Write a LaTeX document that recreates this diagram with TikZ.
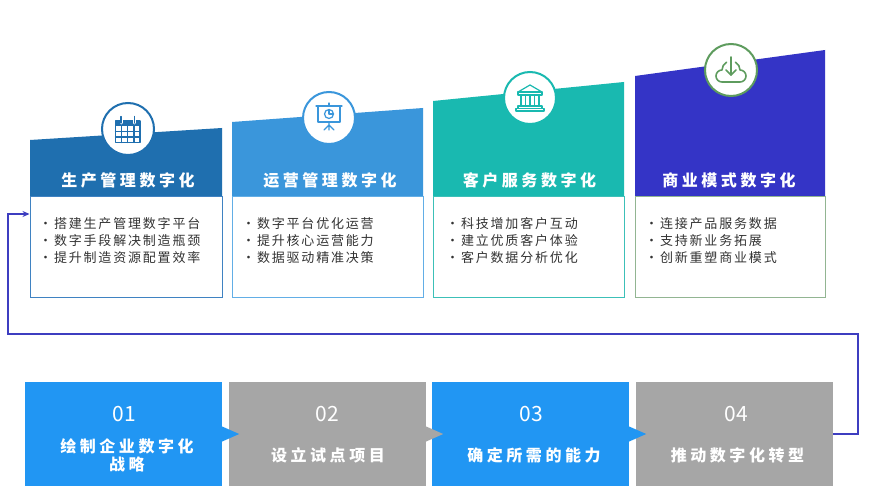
\documentclass[tikz,border=0pt]{standalone}
\usepackage{fontspec}
\setmainfont{Noto Sans CJK SC}
\newfontfamily\titlef[LetterSpace=22]{Noto Sans CJK SC}
\newfontfamily\bodyf[LetterSpace=14]{Noto Sans CJK SC}
\newfontfamily\stepf[LetterSpace=22]{Noto Sans CJK SC}
\usetikzlibrary{arrows.meta}
\definecolor{hA}{HTML}{1F6FAF}
\definecolor{hB}{HTML}{3A96DB}
\definecolor{hC}{HTML}{19B9B0}
\definecolor{hD}{HTML}{3434C6}
\definecolor{bA}{HTML}{3F82C2}
\definecolor{bB}{HTML}{62AEE6}
\definecolor{bC}{HTML}{3CC0B8}
\definecolor{bD}{HTML}{92B592}
\definecolor{gD}{HTML}{5E9C5E}
\definecolor{sblue}{HTML}{2196F3}
\definecolor{sgray}{HTML}{A6A6A6}
\definecolor{conncol}{HTML}{3D3DC0}
\definecolor{txt}{HTML}{333333}
\begin{document}
\begin{tikzpicture}[x=1pt,y=-1pt,
  cardbody/.style={rectangle,fill=white,line width=1pt,minimum width=192pt,minimum height=101pt,inner sep=0pt},
  iconc/.style={circle,fill=white,line width=2pt,minimum size=52pt,inner sep=0pt},
  titlet/.style={text=white,font=\titlef\bfseries\fontsize{16}{18}\selectfont,inner sep=0pt},
  bullett/.style={anchor=west,text=txt,font=\bodyf\fontsize{13}{16}\selectfont,inner sep=0pt},
  stepbox/.style={rectangle,minimum width=197pt,minimum height=104pt,inner sep=0pt},
  numt/.style={text=white,font=\fontsize{21}{23}\selectfont,inner sep=0pt},
  labt/.style={text=white,font=\stepf\bfseries\fontsize{16}{18}\selectfont,align=center,inner sep=0pt},
  icon/.style={line width=1.2pt,line cap=round,line join=round},
  conn/.style={draw=conncol,line width=1.3pt,-{Stealth[length=7pt,width=6pt]}}]
\fill[white] (0,0) rectangle (870,500);
\useasboundingbox (0,0) rectangle (870,500);
% ---- card headers
\fill[hA] (30,140) -- (222,128) -- (222,196) -- (30,196) -- cycle;
\fill[hB] (232,122) -- (423,108) -- (423,196) -- (232,196) -- cycle;
\fill[hC] (433,101) -- (624,82) -- (624,196) -- (433,196) -- cycle;
\fill[hD] (635,76) -- (825,50) -- (825,196) -- (635,196) -- cycle;
% ---- card bodies
\node[cardbody,draw=bA] (body1) at (126,246.5) {};
\node[cardbody,draw=bB,minimum width=191pt] (body2) at (327.5,246.5) {};
\node[cardbody,draw=bC,minimum width=191pt] (body3) at (528.5,246.5) {};
\node[cardbody,draw=bD,minimum width=190pt] (body4) at (730,246.5) {};
% ---- titles
\node[titlet] (ti1) at (128,180) {生产管理数字化};
\node[titlet] (ti2) at (330,180) {运营管理数字化};
\node[titlet] (ti3) at (529.5,180) {客户服务数字化};
\node[titlet] (ti4) at (729,180) {商业模式数字化};
% ---- bullets
\node[bullett] (t11) at (39,224) {•搭建生产管理数字平台};
\node[bullett] (t12) at (39,241) {•数字手段解决制造瓶颈};
\node[bullett] (t13) at (39,258) {•提升制造资源配置效率};
\node[bullett] (t21) at (242,224) {•数字平台优化运营};
\node[bullett] (t22) at (242,241) {•提升核心运营能力};
\node[bullett] (t23) at (242,258) {•数据驱动精准决策};
\node[bullett] (t31) at (446,224) {•科技增加客户互动};
\node[bullett] (t32) at (446,241) {•建立优质客户体验};
\node[bullett] (t33) at (446,258) {•客户数据分析优化};
\node[bullett] (t41) at (645,224) {•连接产品服务数据};
\node[bullett] (t42) at (645,241) {•支持新业务拓展};
\node[bullett] (t43) at (645,258) {•创新重塑商业模式};
% ---- icon circles
\node[iconc,draw=hA] (ic1) at (128,129) {};
\node[iconc,draw=hB] (ic2) at (329,118) {};
\node[iconc,draw=hC] (ic3) at (530,98) {};
\node[iconc,draw=gD] (ic4) at (731,70) {};
% calendar
\begin{scope}[icon,draw=hA]
\fill[hA] (115.5,121) rectangle (140,126);
\draw (115.5,121) rectangle (140,142.5);
\draw (121.6,126) -- (121.6,142.5) (127.75,126) -- (127.75,142.5) (133.9,126) -- (133.9,142.5);
\draw (115.5,131.5) -- (140,131.5) (115.5,137) -- (140,137);
\draw[white,line width=3pt] (121,118) -- (121,123) (134.5,118) -- (134.5,123);
\draw (121,116.5) -- (121,123) (134.5,116.5) -- (134.5,123);
\end{scope}
% presentation board
\begin{scope}[icon,draw=hB]
\draw (316,106) -- (342,106);
\draw (318,106) rectangle (340,122);
\draw (329,103) -- (329,106);
\draw (329,114) circle[radius=4.5];
\draw (329,114) -- (329,109.5) (329,114) -- (333.5,114);
\draw (329,122) -- (329,130) (329,125) -- (324,130) (329,125) -- (334,130);
\end{scope}
% bank
\begin{scope}[icon,draw=hC]
\draw (518,92) -- (530,85) -- (542,92) -- cycle;
\draw (518,92) rectangle (542,95);
\draw (521,95) -- (521,106) (525.5,95) -- (525.5,106) (530,95) -- (530,106) (534.5,95) -- (534.5,106) (539,95) -- (539,106);
\draw (518,106) rectangle (542,108.5);
\draw (516,108.5) rectangle (544,111);
\end{scope}
% download cloud
\begin{scope}[icon,draw=gD,line width=1.6pt]
\draw (735.5,62.2) arc[start angle=-60,end angle=0,radius=9]
  arc[start angle=-90,end angle=90,radius=6] -- (722,82)
  arc[start angle=90,end angle=270,radius=6]
  arc[start angle=180,end angle=240,radius=9];
\draw (731,57) -- (731,75);
\draw (726,70) -- (731,75) -- (736,70);
\end{scope}
% ---- bottom steps
\node[stepbox,fill=sblue] (b1) at (123.5,434) {};
\node[stepbox,fill=sgray] (b2) at (327.5,434) {};
\node[stepbox,fill=sblue] (b3) at (530.5,434) {};
\node[stepbox,fill=sgray] (b4) at (734.5,434) {};
\fill[sblue] ([yshift=-7.5pt]b1.east) -- ([xshift=17pt]b1.east) -- ([yshift=7.5pt]b1.east) -- cycle;
\fill[sgray] ([yshift=-7.5pt]b2.east) -- ([xshift=17pt]b2.east) -- ([yshift=7.5pt]b2.east) -- cycle;
\fill[sblue] ([yshift=-7.5pt]b3.east) -- ([xshift=17pt]b3.east) -- ([yshift=7.5pt]b3.east) -- cycle;
\node[numt] (n1) at (124.5,414) {01};
\node[numt] (n2) at (327.5,414) {02};
\node[numt] (n3) at (531.5,414) {03};
\node[numt] (n4) at (736.5,414) {04};
\node[labt] (l1) at (127,455) {绘制企业数字化\\战略};
\node[labt] (l2) at (328,455) {设立试点项目};
\node[labt] (l3) at (534,455) {确定所需的能力};
\node[labt] (l4) at (737.5,455) {推动数字化转型};
% ---- feedback connector
\coordinate (k1) at (858,334);
\coordinate (k2) at (8,334);
\coordinate (k3) at (8,214);
\draw[conn] (b4.east) -| (k1) -- (k2) -- (k3) -- (body1.west |- k3);
\end{tikzpicture}
\end{document}
